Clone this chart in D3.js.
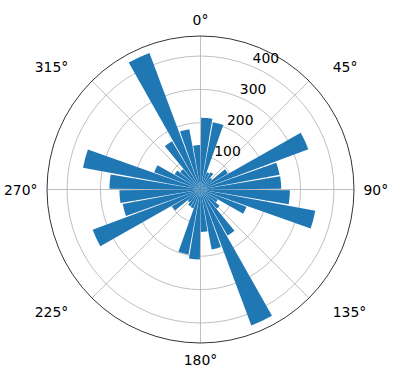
<!DOCTYPE html>
<html>
<head>
<meta charset="utf-8">
<script src="https://cdn.jsdelivr.net/npm/d3@7"></script>
<style>
  body { margin: 0; background: #fff; }
  text { font-family: "DejaVu Sans", sans-serif; font-size: 13.9px; fill: #000; }
</style>
</head>
<body>
<div id="vis"></div>
<script>
// direction bins (degrees, clockwise from north) and the count in each bin
const directions = [0, 10, 20, 30, 40, 50, 60, 70, 80, 90, 100, 110,
  120, 130, 140, 150, 160, 170, 180, 190, 200, 210, 220, 230,
  240, 250, 260, 270, 280, 290, 300, 310, 320, 330, 340, 350];
const counts = [215, 205, 55, 60, 45, 95, 345, 241, 242, 268, 350, 147,
  60, 75, 160, 435, 183, 127, 210, 198, 60, 58, 50, 99,
  345, 237, 243, 273, 358, 148, 90, 80, 168, 437, 184, 133];

const angleTicks = [0, 45, 90, 135, 180, 225, 270, 315];
const radialTicks = [100, 200, 300, 400];

const W = 396, H = 380;
const cx = 200.5, cy = 189.5, R = 153.5;
const binWidth = 10, barWidth = 9;

let svg = d3.select('#vis')
  .append('svg')
    .attr('width', W)
    .attr('height', H)
    .style('background-color', '#fff');

let g = svg.append('g')
  .attr('transform', `translate(${cx},${cy})`);

let r = d3.scaleLinear()
  .domain([0, 460])
  .range([0, R]);

const rad = d => d * Math.PI / 180;

// grid: circles
g.selectAll('circle.grid')
  .data(radialTicks)
  .enter().append('circle')
    .attr('class', 'grid')
    .attr('r', d => r(d))
    .attr('fill', 'none')
    .attr('stroke', '#b0b0b0')
    .attr('stroke-width', 0.8);

// grid: spokes
g.selectAll('line.spoke')
  .data(angleTicks)
  .enter().append('line')
    .attr('class', 'spoke')
    .attr('x1', 0).attr('y1', 0)
    .attr('x2', d => R * Math.sin(rad(d)))
    .attr('y2', d => -R * Math.cos(rad(d)))
    .attr('stroke', '#b0b0b0')
    .attr('stroke-width', 0.8);

// bars
let arc = d3.arc()
  .innerRadius(0)
  .outerRadius(d => r(d.value))
  .startAngle(d => rad(d.dir + (binWidth - barWidth) / 2))
  .endAngle(d => rad(d.dir + (binWidth + barWidth) / 2));

g.selectAll('path.bar')
  .data(directions.map((d, i) => ({dir: d, value: counts[i]})))
  .enter().append('path')
    .attr('class', 'bar')
    .attr('d', arc)
    .attr('fill', '#1f77b4');

// outer frame
g.append('circle')
  .attr('r', R)
  .attr('fill', 'none')
  .attr('stroke', '#000')
  .attr('stroke-width', 0.8);

// radial labels at 22.5 degrees
g.selectAll('text.rlab')
  .data(radialTicks)
  .enter().append('text')
    .attr('class', 'rlab')
    .attr('x', d => r(d) * Math.sin(rad(22.5)) + 1)
    .attr('y', d => -r(d) * Math.cos(rad(22.5)) - 3)
    .text(d => d);

// angle labels
const rho = 163;
g.selectAll('text.tlab')
  .data(angleTicks)
  .enter().append('text')
    .attr('class', 'tlab')
    .attr('text-anchor', 'middle')
    .attr('dominant-baseline', 'central')
    .text(d => d + '°')
    .each(function(d) {
      let w = this.getBBox().width;
      let s = Math.sin(rad(d)), c = Math.cos(rad(d));
      let x = s * rho, y = -c * rho;
      if (Math.abs(s) > 0.1) x += Math.sign(s) * (w / 2 + 17 * Math.abs(Math.sin(rad(2 * d))));
      if (Math.abs(c) > 0.1) y -= Math.sign(c) * 7;
      d3.select(this).attr('x', x).attr('y', y);
    });
</script>
</body>
</html>
